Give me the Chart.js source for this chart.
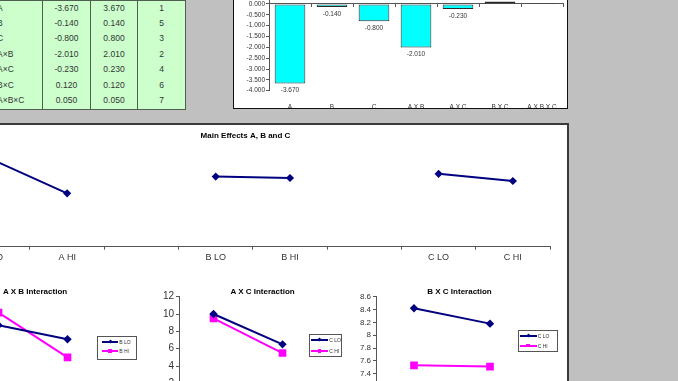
<!DOCTYPE html>
<html><head><meta charset="utf-8">
<script src="https://cdn.jsdelivr.net/npm/chart.js@4.4.1/dist/chart.umd.min.js"></script>
<style>
html,body{margin:0;padding:0;width:678px;height:381px;overflow:hidden;background:#c0c0c0;font-family:"Liberation Sans",Arial,sans-serif;}
.abs{position:absolute;}
canvas{position:absolute;}
.cell{position:absolute;box-sizing:border-box;background:#ccffcc;border-right:1px solid #4f5f4f;border-bottom:1px solid #4f5f4f;font-size:8.5px;color:#333;text-align:center;line-height:15px;white-space:nowrap;overflow:hidden;}
.ttl{position:absolute;font-size:8px;font-weight:bold;color:#000;white-space:nowrap;line-height:10px;}
.lg{position:absolute;box-sizing:border-box;background:#fff;border:1px solid #555;}
.lgline{position:absolute;height:2px;}
.lgtxt{position:absolute;font-size:5px;line-height:6px;color:#333;white-space:nowrap;}
.mk{position:absolute;}
</style></head><body>
<div id="table" class="abs" style="left:0;top:0;width:190px;height:112px;"></div>
<div class="abs" style="left:233px;top:-10px;width:335px;height:119px;background:#fff;border:1.5px solid #111;box-sizing:border-box"></div>
<div class="abs" style="left:-10px;top:123px;width:579px;height:300px;background:#fff;border:2px solid #3a3a3a;box-sizing:border-box"></div>
<canvas id="bar" width="332" height="128" style="left:235px;top:-20px"></canvas>
<canvas id="main" width="621" height="142" style="left:-64.7px;top:128px"></canvas>
<canvas id="ab" width="173" height="135" style="left:-64.7px;top:285px"></canvas>
<canvas id="ac" width="173" height="135" style="left:150px;top:285px"></canvas>
<canvas id="bc" width="194" height="125" style="left:340px;top:285px"></canvas>
<div class="ttl" style="left:3px;top:286.7px">A X B Interaction</div>
<div class="ttl" id="acT" style="left:231px;top:286.7px">A X C Interaction</div>
<div class="ttl" id="bcT" style="left:426px;top:286.7px">B X C Interaction</div>
<div id="legends"></div>
<script>
// ---- data ----
const tableFactors = ['A','B','C','A×B','A×C','B×C','A×B×C'];
const tableEffects = [-3.670,-0.140,-0.800,-2.010,-0.230,0.120,0.050];
const tableAbsEffects = [3.670,0.140,0.800,2.010,0.230,0.120,0.050];
const tableRanks = [1,5,3,2,4,6,7];

const effectLabels = ['A','B','C','A X B','A X C','B X C','A X B X C'];
const effectValues = [-3.670,-0.140,-0.800,-2.010,-0.230,0.120,0.050];

const mainLabels = ['A LO','A HI','','B LO','B HI','','C LO','C HI'];
const mainValues = [9.85,6.06,null,7.96,7.80,null,8.27,7.46];

const abLabels = ['A LO','A HI'];
const abBLo = [8.71,7.10];
const abBHi = [10.17,5.00];
const acLabels = ['A LO','A HI'];
const acCLo = [10.0,6.5];
const acCHi = [9.5,5.5];
const bcLabels = ['B LO','B HI'];
const bcCLo = [8.42,8.18];
const bcCHi = [7.53,7.51];

// ---- table ----
const tbl = document.getElementById('table');
const colX = [-40,43,91,138], colW = [83,48,47,48];
for (let r=0;r<7;r++){
  const vals=[tableFactors[r], tableEffects[r].toFixed(3), tableAbsEffects[r].toFixed(3), String(tableRanks[r])];
  for (let c=0;c<4;c++){
    const d=document.createElement('div');
    d.className='cell';
    d.style.left=colX[c]+'px'; d.style.top=(r*15.5)+'px';
    d.style.width=colW[c]+'px'; d.style.height='16.5px';
    if(r===0) d.style.borderTop='1px solid #4f5f4f';
    if(c===0){d.style.textAlign='left'; d.style.paddingLeft='37px';}
    d.textContent=vals[c];
    tbl.appendChild(d);
  }
}

Chart.defaults.font.family = "'Liberation Sans', Arial, sans-serif";
Chart.defaults.color = '#333';
const AX = '#555';

// ---- bar chart ----
const barLabelPlugin = {
  id:'barLabels',
  afterDatasetsDraw(chart){
    const ctx=chart.ctx, meta=chart.getDatasetMeta(0), data=chart.data.datasets[0].data;
    ctx.save();
    ctx.font="6.5px 'Liberation Sans', Arial, sans-serif";
    ctx.fillStyle='#333'; ctx.textAlign='center'; ctx.textBaseline='middle';
    meta.data.forEach((el,i)=>{
      const v=data[i];
      ctx.fillText(v.toFixed(3), el.x, v<0 ? el.y+7 : el.y-6);
    });
    ctx.restore();
  }
};
new Chart(document.getElementById('bar'), {
  type:'bar',
  data:{labels:effectLabels, datasets:[{data:effectValues, backgroundColor:'#00ffff', borderColor:'#2b2b2b', borderWidth:1, borderSkipped:false, barPercentage:0.73, categoryPercentage:1}]},
  options:{
    animation:false, responsive:false,
    layout:{padding:{top:13.15,right:4,left:0,bottom:0}},
    plugins:{legend:{display:false}, tooltip:{enabled:false}},
    scales:{
      x:{type:'category', offset:true, grid:{display:false}, border:{display:false},
         ticks:{font:{size:6.5}, color:'#333', padding:4.4, autoSkip:false, maxRotation:0},
         afterFit(s){s.height=17.3;}},
      x2:{type:'category', axis:'x', position:{y:0}, offset:true,
          grid:{offset:true, drawOnChartArea:false, tickLength:3, color:AX},
          border:{color:AX}, ticks:{display:false}},
      y:{min:-4, max:0.5, ticks:{stepSize:0.5, font:{size:6.5}, color:'#333', padding:1, autoSkip:false,
           callback:v=>Number(v).toFixed(3)},
         grid:{drawOnChartArea:false, tickLength:3, color:AX}, border:{color:AX},
         afterFit(s){s.width=34;}}
    }
  },
  plugins:[barLabelPlugin]
});

// ---- main effects ----
new Chart(document.getElementById('main'), {
  type:'line',
  data:{labels:mainLabels, datasets:[{data:mainValues, borderColor:'#000080', backgroundColor:'#000080', borderWidth:2,
        pointStyle:'rectRot', pointRadius:2.7, pointBackgroundColor:'#000080', pointBorderColor:'#000080', spanGaps:false}]},
  options:{
    animation:false, responsive:false,
    layout:{padding:0},
    plugins:{legend:{display:false}, tooltip:{enabled:false},
      title:{display:true, text:'Main Effects A, B and C', color:'#000', font:{size:8, weight:'bold'}, padding:{top:2.9,bottom:0.5}}},
    scales:{
      x:{offset:true, grid:{offset:true, drawOnChartArea:false, tickLength:3, color:AX}, border:{color:AX},
         ticks:{font:{size:9}, color:'#333', padding:2, autoSkip:false, maxRotation:0},
         afterFit(s){s.height=23.3;}},
      y:{min:0, max:12, ticks:{display:false}, grid:{display:false}, border:{display:false},
         afterFit(s){s.width=20.7;}}
    }
  }
});

// ---- interaction charts ----
function interaction(id, labels, lo, hi, loName, hiName, ymin, ymax, step, fontSize, yW, xH){
  return new Chart(document.getElementById(id), {
    type:'line',
    data:{labels:labels, datasets:[
      {label:loName, data:lo, borderColor:'#000080', backgroundColor:'#000080', borderWidth:2,
       pointStyle:'rectRot', pointRadius:2.8, pointBackgroundColor:'#000080', pointBorderColor:'#000080'},
      {label:hiName, data:hi, borderColor:'#ff00ff', backgroundColor:'#ff00ff', borderWidth:2,
       pointStyle:'rect', pointRadius:4, pointBackgroundColor:'#ff00ff', pointBorderColor:'#ff00ff'}
    ]},
    options:{
      animation:false, responsive:false,
      layout:{padding:{top:11.7,left:0,right:0,bottom:0}},
      plugins:{legend:{display:false}, tooltip:{enabled:false}},
      scales:{
        x:{offset:true, grid:{offset:true, drawOnChartArea:false, tickLength:3, color:AX}, border:{color:AX},
           ticks:{font:{size:9}, color:'#333'}, afterFit(s){s.height=xH;}},
        y:{min:ymin, max:ymax, ticks:{stepSize:step, font:{size:fontSize}, color:'#333', padding:2, autoSkip:false,
             callback:v=>String(Math.round(v*10)/10)},
           grid:{drawOnChartArea:false, tickLength:3, color:AX}, border:{color:AX},
           afterFit(s){s.width=yW;}}
      }
    }
  });
}
interaction('ab', abLabels, abBLo, abBHi, 'B LO', 'B HI', 0, 12, 2, 10, 29, 19.3);
interaction('ac', acLabels, acCLo, acCHi, 'C LO', 'C HI', 0, 12, 2, 10, 29, 19.3);
interaction('bc', bcLabels, bcCLo, bcCHi, 'C LO', 'C HI', 7.2, 8.6, 0.2, 8, 36, 23.5);

// center titles
document.getElementById('acT').style.left = (262.5 - document.getElementById('acT').offsetWidth/2)+'px';
document.getElementById('bcT').style.left = (459.3 - document.getElementById('bcT').offsetWidth/2)+'px';

// ---- legends ----
function legend(left, top, w, h, rows){
  const box=document.createElement('div');
  box.className='lg';
  Object.assign(box.style,{left:left+'px',top:top+'px',width:w+'px',height:h+'px'});
  rows.forEach(r=>{
    const ln=document.createElement('div'); ln.className='lgline';
    Object.assign(ln.style,{left:r.x1+'px',top:(r.y-1)+'px',width:(r.x2-r.x1)+'px',background:r.color});
    box.appendChild(ln);
    const mk=document.createElement('div'); mk.className='mk';
    const cx=(r.x1+r.x2)/2;
    if(r.marker==='diamond'){
      Object.assign(mk.style,{left:(cx-1.5)+'px',top:(r.y-1.5)+'px',width:'3px',height:'3px',background:r.color,transform:'rotate(45deg)'});
    } else {
      Object.assign(mk.style,{left:(cx-1.75)+'px',top:(r.y-1.75)+'px',width:'3.5px',height:'3.5px',background:r.color});
    }
    box.appendChild(mk);
    const t=document.createElement('div'); t.className='lgtxt';
    Object.assign(t.style,{left:r.tx+'px',top:(r.y-3)+'px'});
    t.textContent=r.label;
    box.appendChild(t);
  });
  document.getElementById('legends').appendChild(box);
}
legend(97,336,40,24,[
  {label:'B LO', color:'#000080', marker:'diamond', y:4.7, x1:3.7, x2:20.3, tx:21.3},
  {label:'B HI', color:'#ff00ff', marker:'square', y:14, x1:3.7, x2:20.3, tx:21.3}
]);
legend(309,334.3,33,23,[
  {label:'C LO', color:'#000080', marker:'diamond', y:4.7, x1:1, x2:18.3, tx:19.3},
  {label:'C HI', color:'#ff00ff', marker:'square', y:15.7, x1:1, x2:18.3, tx:19.3}
]);
legend(518.3,330,40,21.7,[
  {label:'C LO', color:'#000080', marker:'diamond', y:4.7, x1:0.5, x2:17.4, tx:18.4},
  {label:'C HI', color:'#ff00ff', marker:'square', y:14.7, x1:0.5, x2:17.4, tx:18.4}
]);
</script>
</body></html>
